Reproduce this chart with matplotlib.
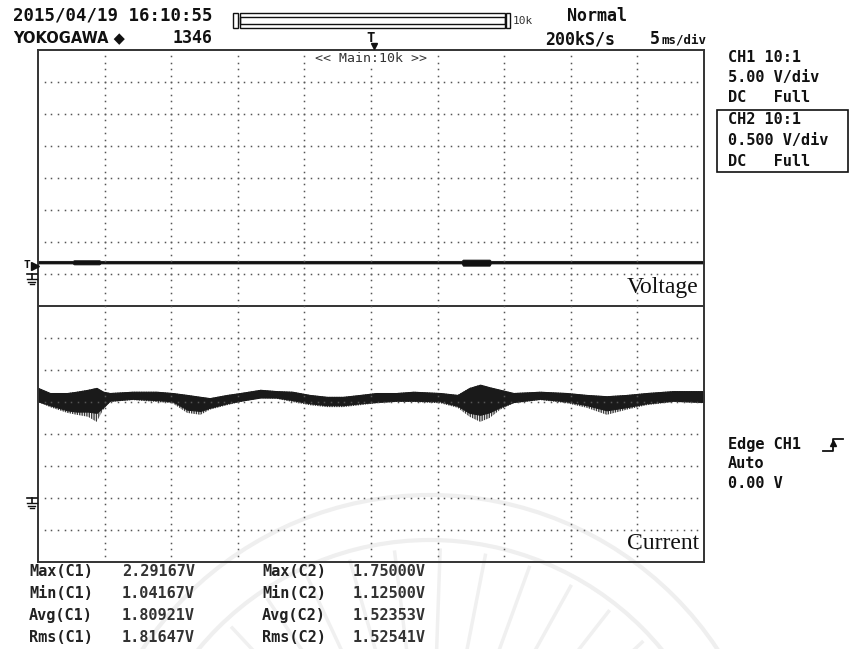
import numpy as np
import matplotlib
matplotlib.use("Agg")
import matplotlib.pyplot as plt
from matplotlib.lines import Line2D
from matplotlib.patches import Rectangle, Arc

W, H = 853, 649

# current trace (CH2), time in ms, envelope in V
t_cur = [0, 0.9, 2.2, 2.9, 3.75, 4.4, 4.9, 5.4, 7.1, 8.9, 10.1, 11.2, 12.2, 12.9,
         14.2, 15.2, 16.7, 17.9, 19.1, 20.4, 21.7, 22.9, 24.2, 25.4, 26.9, 28.2,
         30.2, 31.5, 32.4, 33.2, 33.9, 34.7, 35.7, 37.7, 39.7, 41.2, 42.7, 44.2,
         45.7, 47.7, 50.0]
cur_hi = [1.72, 1.64, 1.64, 1.66, 1.69, 1.72, 1.66, 1.64, 1.66, 1.66, 1.64, 1.61,
          1.58, 1.56, 1.61, 1.64, 1.69, 1.67, 1.66, 1.61, 1.58, 1.58, 1.61, 1.64,
          1.64, 1.66, 1.64, 1.61, 1.72, 1.77, 1.73, 1.69, 1.64, 1.66, 1.64, 1.61,
          1.59, 1.61, 1.64, 1.67, 1.67]
cur_lo = [1.50, 1.42, 1.33, 1.30, 1.27, 1.19, 1.38, 1.50, 1.53, 1.50, 1.48, 1.33,
          1.30, 1.38, 1.45, 1.50, 1.56, 1.55, 1.50, 1.45, 1.42, 1.42, 1.45, 1.48,
          1.50, 1.50, 1.48, 1.41, 1.27, 1.19, 1.25, 1.38, 1.48, 1.53, 1.48, 1.41,
          1.30, 1.38, 1.45, 1.50, 1.48]
cur_core = [1.51, 1.45, 1.37, 1.35, 1.35, 1.33, 1.42, 1.52, 1.55, 1.53, 1.51, 1.38,
            1.36, 1.41, 1.48, 1.52, 1.57, 1.57, 1.53, 1.48, 1.45, 1.45, 1.48, 1.50,
            1.52, 1.52, 1.51, 1.44, 1.33, 1.30, 1.34, 1.42, 1.50, 1.55, 1.51, 1.45,
            1.37, 1.42, 1.48, 1.52, 1.50]

# voltage trace (CH1)
t_volt = [0, 2.6, 2.7, 4.6, 4.7, 31.8, 31.9, 33.9, 34.0, 50]
volt_hi = [2.05, 2.05, 2.15, 2.15, 2.05, 2.05, 2.25, 2.25, 2.05, 2.05]
volt_lo = [1.65, 1.65, 1.50, 1.50, 1.65, 1.65, 1.30, 1.30, 1.65, 1.65]

meas_names_1 = ["Max(C1)", "Min(C1)", "Avg(C1)", "Rms(C1)"]
meas_vals_1 = ["2.29167V", "1.04167V", "1.80921V", "1.81647V"]
meas_names_2 = ["Max(C2)", "Min(C2)", "Avg(C2)", "Rms(C2)"]
meas_vals_2 = ["1.75000V", "1.12500V", "1.52353V", "1.52541V"]

ch1_lines = ["CH1 10:1", "5.00 V/div", "DC   Full"]
ch2_lines = ["CH2 10:1", "0.500 V/div", "DC   Full"]
trig_lines = ["Edge CH1", "Auto", "0.00 V"]

V_DIV, I_DIV = 5.0, 0.5
V_GND, I_GND = 9, 2
MONO = "DejaVu Sans Mono"
INK = "#111111"


def fx(x):
    return x / W


def fy(y):
    return 1 - y / H


fig = plt.figure(figsize=(W / 100, H / 100), dpi=100)
fig.patch.set_facecolor("white")

# faint watermark behind everything
bg = fig.add_axes([0, 0, 1, 1], zorder=-1)
bg.set_xlim(0, W)
bg.set_ylim(H, 0)
bg.axis("off")
for r in (300, 345):
    bg.add_patch(Arc((430, 840), 2 * r, 2 * r, theta1=180, theta2=360,
                     color="#efefef", lw=3))
for ang in np.arange(200, 345, 9):
    a = np.radians(ang)
    bg.plot([430 + 120 * np.cos(a), 430 + 290 * np.cos(a)],
            [840 + 120 * np.sin(a), 840 + 290 * np.sin(a)],
            color="#f0f0f0", lw=2.5)

# screen area
ax = fig.add_axes([fx(38), fy(562), 666 / W, 512 / H])
ax.set_facecolor("none")
ax.set_xlim(0, 50)
ax.set_ylim(0, 16)
for s in ax.spines.values():
    s.set_color("#333333")
    s.set_linewidth(1.4)
ax.set_xticks([])
ax.set_yticks([])
ax.axhline(8, color="#333333", lw=1.4)

# dotted graticule
for gy in range(1, 16):
    if gy == 8:
        continue
    xs = np.arange(1, 100) * 0.5
    ax.plot(xs, np.full_like(xs, gy), ls="none", marker="s", ms=1.1,
            color="#555555", mew=0)
for gx in range(5, 50, 5):
    ys = np.arange(1, 80) * 0.2
    ax.plot(np.full_like(ys, gx), ys, ls="none", marker="s", ms=1.1,
            color="#555555", mew=0)

# voltage trace
vh = np.array(volt_hi) / V_DIV + V_GND
vl = np.array(volt_lo) / V_DIV + V_GND
ax.fill_between(t_volt, vl, vh, color=INK, lw=0.6, edgecolor=INK)

# current trace: spiky envelope + dense core
ch = np.array(cur_hi) / I_DIV + I_GND
cl = np.array(cur_lo) / I_DIV + I_GND
cc = np.array(cur_core) / I_DIV + I_GND
ax.fill_between(t_cur, cl, ch, facecolor="none", edgecolor="#3a3a3a",
                hatch="|||||||", lw=0)
ax.fill_between(t_cur, cc, ch, color="#1a1a1a", lw=0.8, edgecolor="#1a1a1a")

ax.text(49.6, 8.25, "Voltage", family="Liberation Serif", fontsize=17,
        ha="right", va="bottom", color=INK)
ax.text(49.6, 0.25, "Current", family="Liberation Serif", fontsize=17,
        ha="right", va="bottom", color=INK)
ax.text(25, 15.75, "<< Main:10k >>", family=MONO, fontsize=9.5, ha="center",
        va="center", color="#333333",
        bbox=dict(facecolor="white", edgecolor="none", pad=0.5))

# header
fig.text(fx(13), fy(16), "2015/04/19 16:10:55", family=MONO, fontsize=12.5,
         weight="bold", va="center", color=INK)
fig.text(fx(13), fy(38), "YOKOGAWA \u25c6", family="DejaVu Sans", fontsize=10.5,
         weight="bold", va="center", color=INK)
fig.text(fx(213), fy(38), "1346", family=MONO, fontsize=12, weight="bold",
         va="center", ha="right", color=INK)
fig.text(fx(567), fy(16), "Normal", family=MONO, fontsize=12, weight="bold",
         va="center", color=INK)
fig.text(fx(545), fy(39), "200kS/s", family=MONO, fontsize=12, weight="bold",
         va="center", color=INK)
fig.text(fx(650), fy(39), "5", family=MONO, fontsize=12, weight="bold",
         va="center", color=INK)
fig.text(fx(661), fy(40), "ms/div", family=MONO, fontsize=9, weight="bold",
         va="center", color=INK)

# record length bar
for x0, w, y0, h in ((233, 5, 28, 15), (240, 265, 28, 15), (240, 265, 24, 7),
                     (506, 4, 28, 15)):
    fig.patches.append(Rectangle((fx(x0), fy(y0)), w / W, h / H, fill=False,
                                 ec=INK, lw=1, transform=fig.transFigure))
fig.text(fx(513), fy(21), "10k", family=MONO, fontsize=8, va="center",
         color="#333333")

# trigger position marker
fig.text(fx(371), fy(38), "T", family=MONO, fontsize=10, weight="bold",
         va="center", ha="center", color=INK)
fig.lines.append(Line2D([fx(374)], [fy(46)], marker="v", ms=5, color=INK,
                        transform=fig.transFigure))

# right side settings
for i, s in enumerate(ch1_lines):
    fig.text(fx(728), fy(57 + 20.5 * i), s, family=MONO, fontsize=11,
             weight="bold", va="center", color=INK)
fig.patches.append(Rectangle((fx(717), fy(172)), 131 / W, 62 / H, fill=False,
                             ec=INK, lw=1.2, transform=fig.transFigure))
for i, s in enumerate(ch2_lines):
    fig.text(fx(728), fy(120 + 20.5 * i), s, family=MONO, fontsize=11,
             weight="bold", va="center", color=INK)
for i, s in enumerate(trig_lines):
    fig.text(fx(728), fy(445 + 19 * i), s, family=MONO, fontsize=11,
             weight="bold", va="center", color=INK)
# rising edge glyph
fig.lines.append(Line2D([fx(823), fx(833), fx(833), fx(843)],
                        [fy(451), fy(451), fy(439), fy(439)], color=INK, lw=1.3,
                        transform=fig.transFigure))
fig.lines.append(Line2D([fx(833)], [fy(443)], marker="^", ms=4, color=INK,
                        transform=fig.transFigure))

# ground / trigger level markers
fig.text(fx(27), fy(265), "T", family=MONO, fontsize=8, weight="bold",
         va="center", ha="center", color=INK)
fig.lines.append(Line2D([fx(35)], [fy(266)], marker=">", ms=6, color=INK,
                        transform=fig.transFigure))
for gy0 in (274, 498):
    fig.lines.append(Line2D([fx(27), fx(37)], [fy(gy0), fy(gy0)], color=INK,
                            lw=1.2, transform=fig.transFigure))
    fig.lines.append(Line2D([fx(32), fx(32)], [fy(gy0), fy(gy0 + 5)], color=INK,
                            lw=1.2, transform=fig.transFigure))
    for k, w in enumerate((5, 3.5, 2)):
        yy = gy0 + 5 + 2.5 * k
        fig.lines.append(Line2D([fx(32 - w), fx(32 + w)], [fy(yy), fy(yy)],
                                color=INK, lw=1, transform=fig.transFigure))

# measurements
for i in range(4):
    yy = fy(572 + 21.7 * i)
    fig.text(fx(29), yy, meas_names_1[i], family=MONO, fontsize=11,
             weight="bold", va="center", color="#222222")
    fig.text(fx(122), yy, meas_vals_1[i], family=MONO, fontsize=11,
             weight="bold", va="center", color="#333333")
    fig.text(fx(262), yy, meas_names_2[i], family=MONO, fontsize=11,
             weight="bold", va="center", color="#222222")
    fig.text(fx(353), yy, meas_vals_2[i], family=MONO, fontsize=11,
             weight="bold", va="center", color="#333333")

fig.savefig("out.png", dpi=100)
